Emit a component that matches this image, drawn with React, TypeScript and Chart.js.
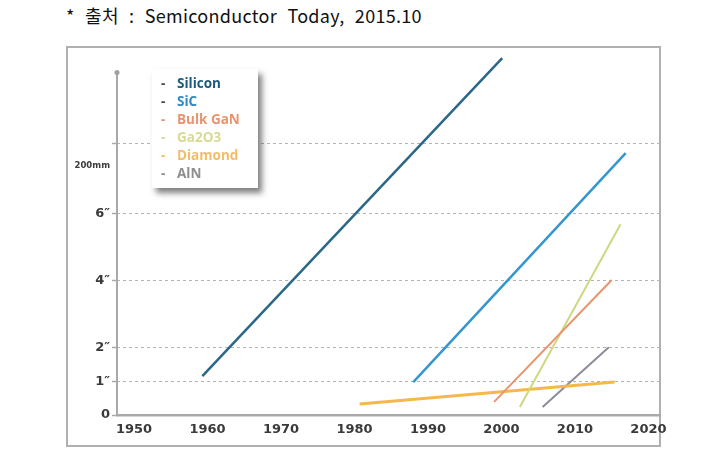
import React, { useEffect, useRef } from "react";
import { Chart, registerables } from "chart.js";

Chart.register(...registerables);

// ---- data ----
const xTickYears = [1950, 1960, 1970, 1980, 1990, 2000, 2010, 2020];
const yTickValues = [0, 1, 2, 4, 6, 7.41, 8.1];
const yTickLabels = ["0", "1″", "2″", "4″", "6″", "200mm", ""];
const seriesNames = ["Silicon", "SiC", "Bulk GaN", "Ga2O3", "Diamond", "AlN"];
const seriesColors = ["#2a6788", "#3596cf", "#e8946c", "#cdd880", "#f5b84c", "#8c8c98"];
const legendColors = ["#1f5a7c", "#2f8ac4", "#e8946c", "#d8da94", "#f2bd6a", "#8e8e8e"];
const seriesWidths = [2.5, 2.5, 2, 2, 3, 2];

const siliconX = [1959.3, 2000.1];
const siliconY = [1.16, 10.63];
const sicX = [1988.0, 2016.9];
const sicY = [0.98, 7.8];
const bulkGanX = [1999.0, 2015.0];
const bulkGanY = [0.39, 4.02];
const ga2o3X = [2002.5, 2016.2];
const ga2o3Y = [0.24, 5.68];
const diamondX = [1980.7, 2015.4];
const diamondY = [0.33, 0.98];
const alnX = [2005.6, 2014.6];
const alnY = [0.24, 2.02];

const seriesX = [siliconX, sicX, bulkGanX, ga2o3X, diamondX, alnX];
const seriesY = [siliconY, sicY, bulkGanY, ga2o3Y, diamondY, alnY];

const yAxisTopValue = 10.2;

const yAxisPlugin = {
  id: "yAxisLine",
  afterDraw(chart: any) {
    const { ctx, scales } = chart;
    const ys = scales.y;
    const x = chart.chartArea.left;
    const yb = ys.getPixelForValue(0);
    const yt = ys.getPixelForValue(yAxisTopValue);
    ctx.save();
    ctx.strokeStyle = "#a9a9a9";
    ctx.lineWidth = 2;
    ctx.beginPath();
    ctx.moveTo(x, yb);
    ctx.lineTo(x, yt);
    ctx.stroke();
    ctx.fillStyle = "#a0a0a0";
    ctx.beginPath();
    ctx.arc(x, yt, 2.5, 0, Math.PI * 2);
    ctx.fill();
    ctx.restore();
  },
};

export default function App() {
  const ref = useRef<HTMLCanvasElement | null>(null);

  useEffect(() => {
    if (!ref.current) return;
    const datasets = seriesNames.map((name, i) => ({
      label: name,
      data: seriesX[i].map((x, j) => ({ x, y: seriesY[i][j] })),
      borderColor: seriesColors[i],
      backgroundColor: seriesColors[i],
      borderWidth: seriesWidths[i],
      pointRadius: 0,
      fill: false,
      tension: 0,
    }));
    const chart = new Chart(ref.current, {
      type: "line",
      data: { datasets },
      plugins: [yAxisPlugin],
      options: {
        animation: false,
        responsive: false,
        layout: { padding: { left: 72, right: 67, top: 49, bottom: 17 } },
        plugins: { legend: { display: false }, tooltip: { enabled: false } },
        scales: {
          x: {
            type: "linear",
            min: 1947.69,
            max: 2021.57,
            afterBuildTicks: (scale: any) => {
              scale.ticks = xTickYears.map((v) => ({ value: v }));
            },
            afterFit: (scale: any) => {
              scale.height = 32;
            },
            grid: { display: false, drawTicks: false },
            border: { display: true, color: "#a9a9a9", width: 2.5 },
            ticks: {
              autoSkip: false,
              maxRotation: 0,
              padding: 7,
              color: "#3a3a3a",
              font: { family: "DejaVu Sans", weight: "bold", size: 13 },
              callback: (v: any) => String(v),
            },
          },
          y: {
            type: "linear",
            min: 0,
            max: 10.9,
            afterBuildTicks: (scale: any) => {
              scale.ticks = yTickValues.map((v) => ({ value: v }));
            },
            afterFit: (scale: any) => {
              scale.width = 45;
            },
            grid: {
              color: (c: any) =>
                c.tick && (c.tick.value === 0 || c.tick.value === 7.41) ? "rgba(0,0,0,0)" : "#b4b4b4",
              tickColor: (c: any) =>
                c.tick && c.tick.value === 7.41 ? "rgba(0,0,0,0)" : "#a9a9a9",
              tickLength: 5,
              lineWidth: 1,
              tickWidth: 1.5,
              tickBorderDash: [],
            },
            border: { display: false, dash: [3, 3] },
            ticks: {
              autoSkip: false,
              padding: 2,
              color: "#3a3a3a",
              font: (c: any) =>
                c.tick && c.tick.value === 7.41
                  ? { family: "DejaVu Sans", weight: "bold", size: 8.5 }
                  : { family: "DejaVu Sans", weight: "bold", size: 13 },
              callback: (v: any) => {
                const i = yTickValues.indexOf(v);
                return i >= 0 ? yTickLabels[i] : "";
              },
            },
          },
        },
      } as any,
    });
    return () => chart.destroy();
  }, []);

  return (
    <div style={{ position: "fixed", left: 0, top: 0, width: 727, height: 464, background: "#fff" }}>
      <div
        style={{
          position: "absolute",
          left: 66,
          top: 3,
          fontFamily: "'Noto Sans CJK KR', 'Noto Sans', sans-serif",
          fontSize: 18,
          lineHeight: "24px",
          color: "#111",
          wordSpacing: 6,
          letterSpacing: 0.3,
          whiteSpace: "pre",
        }}
      >
        * 출처 : Semiconductor Today, 2015.10
      </div>
      <div
        style={{
          position: "absolute",
          left: 66,
          top: 46,
          width: 595,
          height: 401,
          border: "2px solid #b0b0b0",
          boxSizing: "border-box",
        }}
      />
      <canvas ref={ref} width={727} height={464} style={{ position: "absolute", left: 0, top: 0 }} />
      <div
        style={{
          position: "absolute",
          left: 152,
          top: 69,
          width: 106,
          height: 119,
          background: "#fff",
          boxShadow: "4px 5px 6px rgba(0,0,0,0.5)",
          paddingTop: 5,
          boxSizing: "border-box",
          fontFamily: "'Open Sans', sans-serif",
          fontWeight: 700,
          fontSize: 13.5,
        }}
      >
        {seriesNames.map((n, i) => (
          <div key={n} style={{ height: 18, lineHeight: "18px", position: "relative", whiteSpace: "nowrap" }}>
            <span style={{ position: "absolute", left: 9, color: i < 2 ? "#4a4a4a" : legendColors[i] }}>-</span>
            <span style={{ position: "absolute", left: 25, color: legendColors[i] }}>{n}</span>
          </div>
        ))}
      </div>
    </div>
  );
}
